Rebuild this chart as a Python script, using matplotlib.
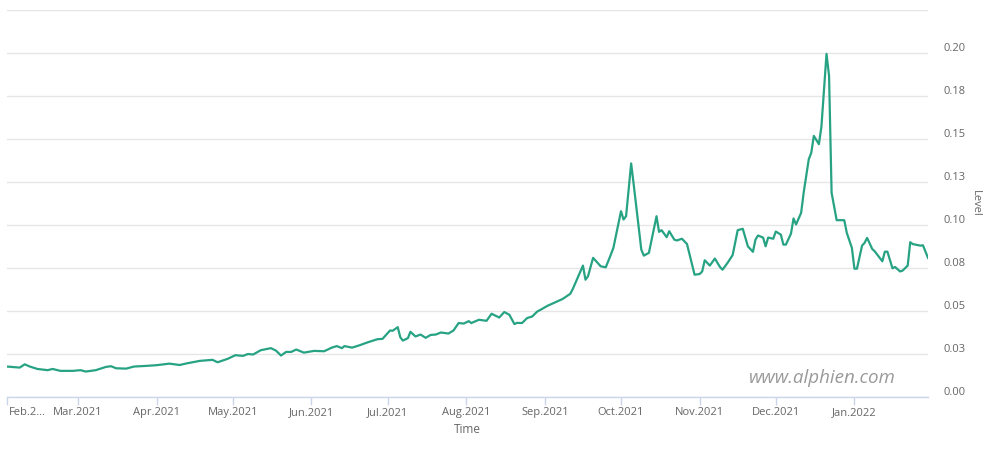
import matplotlib
matplotlib.use("Agg")
import matplotlib.pyplot as plt
import matplotlib.transforms as mtransforms
import pandas as pd

# values
dates = [
    "2021-02-01", "2021-02-06", "2021-02-08", "2021-02-10", "2021-02-13", "2021-02-17",
    "2021-02-19", "2021-02-22", "2021-02-27", "2021-03-02", "2021-03-04", "2021-03-08",
    "2021-03-12", "2021-03-14", "2021-03-16", "2021-03-20", "2021-03-23", "2021-03-28",
    "2021-04-01", "2021-04-06", "2021-04-10", "2021-04-13", "2021-04-18", "2021-04-23",
    "2021-04-25", "2021-04-29", "2021-05-02", "2021-05-05", "2021-05-07", "2021-05-09",
    "2021-05-12", "2021-05-16", "2021-05-18", "2021-05-20", "2021-05-22", "2021-05-24",
    "2021-05-26", "2021-05-29", "2021-06-02", "2021-06-06", "2021-06-09", "2021-06-11",
    "2021-06-13", "2021-06-14", "2021-06-17", "2021-06-20", "2021-06-23", "2021-06-27",
    "2021-06-29", "2021-07-02", "2021-07-03", "2021-07-05", "2021-07-06", "2021-07-07",
    "2021-07-09", "2021-07-10", "2021-07-12", "2021-07-14", "2021-07-16", "2021-07-18",
    "2021-07-20", "2021-07-22", "2021-07-25", "2021-07-27", "2021-07-29", "2021-07-31",
    "2021-08-02", "2021-08-03", "2021-08-06", "2021-08-09", "2021-08-11", "2021-08-14",
    "2021-08-16", "2021-08-18", "2021-08-20", "2021-08-21", "2021-08-23", "2021-08-25",
    "2021-08-27", "2021-08-29", "2021-08-31", "2021-09-02", "2021-09-08", "2021-09-11",
    "2021-09-12", "2021-09-16", "2021-09-17", "2021-09-18", "2021-09-20", "2021-09-23",
    "2021-09-25", "2021-09-27", "2021-09-28", "2021-10-01", "2021-10-02", "2021-10-03",
    "2021-10-05", "2021-10-06", "2021-10-09", "2021-10-10", "2021-10-12", "2021-10-15",
    "2021-10-16", "2021-10-17", "2021-10-19", "2021-10-20", "2021-10-22", "2021-10-23",
    "2021-10-25", "2021-10-27", "2021-10-30", "2021-11-01", "2021-11-02", "2021-11-03",
    "2021-11-05", "2021-11-07", "2021-11-09", "2021-11-10", "2021-11-12", "2021-11-14",
    "2021-11-16", "2021-11-18", "2021-11-20", "2021-11-22", "2021-11-23", "2021-11-24",
    "2021-11-26", "2021-11-27", "2021-11-28", "2021-11-30", "2021-12-01", "2021-12-03",
    "2021-12-04", "2021-12-05", "2021-12-07", "2021-12-08", "2021-12-09", "2021-12-11",
    "2021-12-12", "2021-12-14", "2021-12-15", "2021-12-16", "2021-12-18", "2021-12-19",
    "2021-12-21", "2021-12-22", "2021-12-23", "2021-12-25", "2021-12-28", "2021-12-29",
    "2021-12-31", "2022-01-01", "2022-01-02", "2022-01-04", "2022-01-05", "2022-01-06",
    "2022-01-08", "2022-01-09", "2022-01-12", "2022-01-13", "2022-01-14", "2022-01-16",
    "2022-01-17", "2022-01-19", "2022-01-20", "2022-01-22", "2022-01-23", "2022-01-24",
    "2022-01-27", "2022-01-28", "2022-01-30",
]
levels = [
    0.0177, 0.0171, 0.0190, 0.0177, 0.0163, 0.0156,
    0.0163, 0.0152, 0.0152, 0.0156, 0.0148, 0.0156,
    0.0175, 0.0179, 0.0167, 0.0165, 0.0177, 0.0181,
    0.0185, 0.0194, 0.0186, 0.0196, 0.0210, 0.0216,
    0.0202, 0.0222, 0.0243, 0.0239, 0.0250, 0.0247,
    0.0272, 0.0284, 0.0270, 0.0241, 0.0262, 0.0262,
    0.0276, 0.0258, 0.0268, 0.0266, 0.0287, 0.0296,
    0.0284, 0.0296, 0.0287, 0.0301, 0.0317, 0.0336,
    0.0338, 0.0387, 0.0385, 0.0406, 0.0348, 0.0328,
    0.0342, 0.0379, 0.0352, 0.0363, 0.0344, 0.0361,
    0.0363, 0.0375, 0.0369, 0.0387, 0.0430, 0.0427,
    0.0441, 0.0430, 0.0449, 0.0443, 0.0484, 0.0462,
    0.0494, 0.0478, 0.0424, 0.0431, 0.0430, 0.0459,
    0.0468, 0.0497, 0.0513, 0.0530, 0.0570, 0.0600,
    0.0628, 0.0764, 0.0682, 0.0702, 0.0809, 0.0760,
    0.0754, 0.0828, 0.0867, 0.1080, 0.1032, 0.1051,
    0.1358, 0.1236, 0.0857, 0.0822, 0.0838, 0.1051,
    0.0960, 0.0970, 0.0929, 0.0964, 0.0915, 0.0910,
    0.0920, 0.0890, 0.0711, 0.0715, 0.0730, 0.0795,
    0.0764, 0.0805, 0.0756, 0.0740, 0.0780, 0.0825,
    0.0970, 0.0978, 0.0876, 0.0844, 0.0915, 0.0939,
    0.0927, 0.0876, 0.0927, 0.0920, 0.0962, 0.0944,
    0.0886, 0.0886, 0.0950, 0.1038, 0.1003, 0.1071,
    0.1188, 0.1382, 0.1420, 0.1518, 0.1470, 0.1573,
    0.1995, 0.1868, 0.1188, 0.1028, 0.1028, 0.0954,
    0.0867, 0.0746, 0.0746, 0.0880, 0.0896, 0.0925,
    0.0861, 0.0847, 0.0789, 0.0845, 0.0845, 0.0748,
    0.0756, 0.0730, 0.0735, 0.0764, 0.0900, 0.0889,
    0.0880, 0.0882, 0.0809,
]

month_ticks = ["2021-02-01", "2021-03-01", "2021-04-01", "2021-05-01", "2021-06-01",
               "2021-07-01", "2021-08-01", "2021-09-01", "2021-10-01", "2021-11-01",
               "2021-12-01", "2022-01-01"]
month_labels = ["Feb.2\u2026", "Mar.2021", "Apr.2021", "May.2021", "Jun.2021", "Jul.2021",
                "Aug.2021", "Sep.2021", "Oct.2021", "Nov.2021", "Dec.2021", "Jan.2022"]
level_ticks = [0.0, 0.025, 0.05, 0.075, 0.1, 0.125, 0.15, 0.175, 0.2, 0.225]
level_labels = ["0.00", "0.03", "0.05", "0.08", "0.10", "0.13", "0.15", "0.18", "0.20", ""]

plt.rcParams["font.family"] = ["Open Sans", "DejaVu Sans"]

fig = plt.figure(figsize=(10, 4.54), dpi=100)
ax = fig.add_axes([0.007, 1 - 397 / 454, 0.921, 387 / 454])

x = pd.to_datetime(dates)
ax.plot(x, levels, color="#27a384", linewidth=1.6, solid_joinstyle="round")

ax.set_xlim(pd.Timestamp("2021-02-01"), pd.Timestamp("2022-01-30"))
ax.set_ylim(0, 0.225)

ax.set_yticks(level_ticks)
ax.set_yticklabels(level_labels)
ax.yaxis.tick_right()
ax.tick_params(axis="y", length=0, pad=11, labelsize=8, labelcolor="#666666")
ax.grid(axis="y", color="#e6e6e6", linewidth=1)
# labels sit a little above their grid lines
offset = mtransforms.ScaledTranslation(0, 6 / 100, fig.dpi_scale_trans)
for lab in ax.get_yticklabels():
    lab.set_transform(lab.get_transform() + offset)

ax.set_xticks(pd.to_datetime(month_ticks))
ax.set_xticklabels(month_labels)
ax.tick_params(axis="x", length=6, width=1, color="#ccd6eb", pad=1,
               labelsize=8, labelcolor="#666666")
xlabs = ax.get_xticklabels()
xlabs[0].set_ha("left")
xlabs[0].set_transform(xlabs[0].get_transform() +
                       mtransforms.ScaledTranslation(2 / 100, 0, fig.dpi_scale_trans))

for side in ["left", "right", "top"]:
    ax.spines[side].set_visible(False)
ax.spines["bottom"].set_color("#ccd6eb")
ax.spines["bottom"].set_linewidth(1)

ax.set_xlabel("Time", fontsize=8.5, color="#666666", labelpad=4)
ax.yaxis.set_label_position("right")
ax.set_ylabel("Level", fontsize=8, color="#666666", rotation=270, labelpad=11)

fig.text(0.822, 1 - 378 / 454, "www.alphien.com", fontsize=13.5, style="italic",
         color="#999999", ha="center", va="center")

fig.savefig("out.png", dpi=100)
